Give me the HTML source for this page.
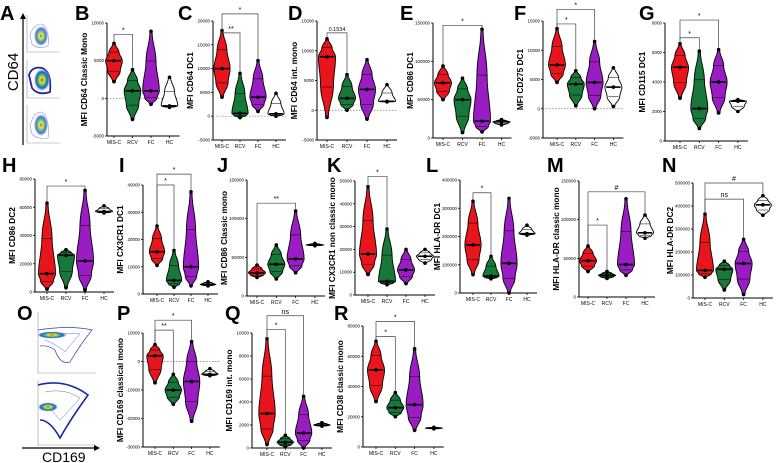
<!DOCTYPE html>
<html><head><meta charset="utf-8"><style>
body{margin:0;background:#fff;}
svg{display:block;font-family:"Liberation Sans",sans-serif;}
</style></head><body>
<svg id="fig" width="777" height="463" viewBox="0 0 777 463">
<defs>
<radialGradient id="flow" cx="50%" cy="50%" r="50%">
<stop offset="0" stop-color="#e02020"/><stop offset="0.25" stop-color="#f7e020"/><stop offset="0.5" stop-color="#30c080"/><stop offset="0.75" stop-color="#3050d0"/><stop offset="1" stop-color="#c0c8f0" stop-opacity="0.3"/>
</radialGradient>
</defs>
<g>
<text x="0" y="20" font-size="20" font-weight="bold">A</text>
<line x1="23" y1="145" x2="23" y2="17" stroke="#000" stroke-width="1.2"/><polygon points="20,19 26,19 23,13" fill="#000"/>
<text transform="translate(18,72) rotate(-90)" text-anchor="middle" font-size="15">CD64</text>
<g stroke="#999" stroke-width="0.6" fill="none"><path d="M27,15 V52 H60"/><path d="M27,60 V98 H60"/><path d="M27,105 V143 H60"/></g>
<path d="M30,36 Q33,24 42,24 Q50,30 48,46 Q38,50 32,44 Z" fill="none" stroke="#8090e0" stroke-width="0.6"/>
<ellipse cx="41" cy="36" rx="7" ry="10" fill="url(#flow)" opacity="0.85"/>
<path d="M29,75 Q32,66 42,68 Q52,72 50,92 Q38,96 32,88 Z" fill="none" stroke="#1a2aa0" stroke-width="1.8"/>
<ellipse cx="42" cy="80" rx="8" ry="11" fill="url(#flow)"/>
<path d="M30,126 Q33,112 42,112 Q50,118 48,138 Q38,140 32,134 Z" fill="none" stroke="#8090e0" stroke-width="0.6"/>
<ellipse cx="41" cy="125" rx="7" ry="11" fill="url(#flow)" opacity="0.85"/>
</g>
<g>
<text x="17" y="320" font-size="20" font-weight="bold">O</text>
<g stroke="#999" stroke-width="0.6" fill="none"><path d="M38,312 V373 H96"/><path d="M38,380 V445 H96"/></g>
<path d="M38,330 Q70,325 92,330 Q80,345 70,362 Q60,365 55,350 Q48,345 40,346" fill="none" stroke="#3040b0" stroke-width="0.7"/>
<path d="M45,335 Q65,332 80,334 Q70,345 65,352 Q58,345 45,340" fill="none" stroke="#6070c0" stroke-width="0.5"/>
<ellipse cx="52" cy="335" rx="15" ry="3.5" fill="url(#flow)"/>
<path d="M38,385 Q65,378 88,395 Q70,420 60,438 Q50,420 40,420" fill="none" stroke="#1a2aa0" stroke-width="1.6"/>
<path d="M45,392 Q65,388 80,398 Q68,412 60,420 Q52,410 45,405" fill="none" stroke="#6070c0" stroke-width="0.5"/>
<ellipse cx="48" cy="407" rx="10" ry="4.5" fill="url(#flow)"/>
<line x1="22" y1="448" x2="96" y2="448" stroke="#000" stroke-width="1.2"/><polygon points="94,445 94,451 100,448" fill="#000"/>
<text x="42" y="462" font-size="14">CD169</text>
</g>
<g id="charts"></g>
</svg>
<script>
const groups = ["MIS-C","RCV","FC","HC"];
// per-panel data: low, median, high for MIS-C, RCV, FC, HC
const bLow=[2200,-2800,-800,-1200], bMed=[5000,1000,1000,-1000], bHigh=[7300,3800,8900,2800];
const cLow=[4000,-300,1000,0], cMed=[10000,600,4000,500], cHigh=[18000,9000,11700,4800];
const dLow=[-1200,0,-1500,1400], dMed=[9000,2000,3500,1500], dHigh=[12000,6000,8500,4300];
const eLow=[50000,7000,8000,17000], eMed=[72000,50000,22000,21000], eHigh=[94000,78000,142000,24000];
const fLow=[4500,500,0,400], fMed=[7500,4200,4500,3700], fHigh=[13700,6500,11500,7000];
const gLow=[2900,850,1900,2000], gMed=[5000,2200,4000,2700], gHigh=[6600,6100,6200,2800];
const hLow=[2000,3000,1500,56000], hMed=[13000,26000,22000,57000], hHigh=[63000,30000,72000,61000];
const iLow=[10500,2500,3000,3000], iMed=[15500,5000,10000,3500], iHigh=[25000,16000,37500,4500];
const jLow=[24000,22000,30000,65000], jMed=[30000,41000,48000,66000], jHigh=[40000,66000,110000,68000];
const kLow=[9000,4500,5000,14000], kMed=[18000,6000,11000,17000], kHigh=[47500,29000,20000,20000];
const lLow=[65000,50000,0,205000], lMed=[170000,60000,105000,210000], lHigh=[325000,130000,335000,240000];
const mLow=[33000,24000,28000,76000], mMed=[47000,28000,42000,83000], mHigh=[66000,33000,127000,106000];
const nLow=[90000,35000,15000,360000], nMed=[120000,125000,150000,405000], nHigh=[365000,160000,255000,445000];
const pLow=[-7500,-15000,-21000,-5000], pMed=[2000,-10000,-7000,-4500], pHigh=[6000,-4500,7000,-2500];
const qLow=[300,100,0,1900], qMed=[3000,500,1300,2000], qHigh=[9500,1100,4500,2200];
const rLow=[30000,20000,11000,12000], rMed=[51000,26000,28000,12500], rHigh=[70000,36000,65000,13000];
// y-axis ticks per panel
const bTicks=[-5000,0,5000,10000], cTicks=[-5000,0,5000,10000,15000,20000], dTicks=[-5000,0,5000,10000,15000];
const eTicks=[0,50000,100000,150000], fTicks=[-5000,0,5000,10000,15000], gTicks=[0,2000,4000,6000,8000];
const hTicks=[0,20000,40000,60000,80000], iTicks=[0,10000,20000,30000,40000], jTicks=[0,50000,100000,150000];
const kTicks=[0,10000,20000,30000,40000,50000], lTicks=[0,100000,200000,300000,400000], mTicks=[0,50000,100000,150000];
const nTicks=[0,100000,200000,300000,400000,500000], pTicks=[-30000,-20000,-10000,0,10000], qTicks=[0,2000,4000,6000,8000,10000], rTicks=[0,20000,40000,60000,80000];
// significance brackets: [fromGroup, toGroup, level, label]
const bSig=[[0,1,8500,"*"]], cSig=[[0,1,17500,"**"],[0,2,21500,"*"]], dSig=[[0,1,13000,"0.1534"]];
const eSig=[[0,2,147000,"*"]], fSig=[[0,1,14500,"*"],[0,2,17000,"*"]], gSig=[[0,1,7000,"*"],[0,2,8200,"*"]];
const hSig=[[0,2,75000,"*"]], iSig=[[0,1,40000,"*"],[0,2,44000,"*"]], jSig=[[0,2,120000,"**"]];
const kSig=[[0,1,52000,"*"]], lSig=[[0,1,355000,"*"]], mSig=[[0,1,93000,"*"],[0,3,136000,"#"]];
const nSig=[[0,2,430000,"ns"],[0,3,500000,"#"]], pSig=[[0,1,11000,"**"],[0,2,14500,"*"]], qSig=[[0,1,10300,"*"],[0,2,11500,"ns"]], rSig=[[0,1,73000,"*"],[0,2,83000,"*"]];

const colors=["#e8161c","#17783a","#9a1dc4","#ffffff"];
const NS="http://www.w3.org/2000/svg";
const root=document.getElementById("charts");
function mk(tag,attrs,parent){const e=document.createElementNS(NS,tag);for(const k in attrs)e.setAttribute(k,attrs[k]);parent.appendChild(e);return e;}
function fmt(v){return String(v);}

function panel(id,letter,lx,ly,title,ax,yTop,yBot,ymin,ymax,ticks,c0,sp,low,med,high,sig,zero){
  const g=mk("g",{},root);
  
  
  const y=v=>yBot-(v-ymin)/(ymax-ymin)*(yBot-yTop);
  const x=i=>c0+i*sp;
  const L=mk("text",{x:lx,y:ly,"font-size":20,"font-weight":"bold"},g);L.textContent=letter;
  
  
  const T=mk("text",{transform:`translate(${ax-20},${(yTop+yBot)/2}) rotate(-90)`,"text-anchor":"middle","font-size":8.3,"font-weight":"bold"},g);T.textContent=title;
  
  
  const yA=mk("line",{x1:ax,y1:yTop,x2:ax,y2:yBot,stroke:"#000","stroke-width":1},g);
  
  
  const xEnd=x(3)+10;
  const xA=mk("line",{x1:ax,y1:yBot,x2:xEnd,y2:yBot,stroke:"#000","stroke-width":1},g);
  
  
  ticks.forEach(t=>{
    mk("line",{x1:ax-2,y1:y(t),x2:ax,y2:y(t),stroke:"#000","stroke-width":0.8},g);
    const tl=mk("text",{x:ax-3,y:y(t)+1.5,"text-anchor":"end","font-size":4.5},g);tl.textContent=fmt(t);
    
    
  });
  if(zero){mk("line",{x1:ax,y1:y(0),x2:xEnd,y2:y(0),stroke:"#777","stroke-width":0.7,"stroke-dasharray":"1.5,1.5"},g);}
  groups.forEach((nm,i)=>{
    mk("line",{x1:x(i),y1:yBot,x2:x(i),y2:yBot+2,stroke:"#000","stroke-width":0.8},g);
    const tl=mk("text",{x:x(i),y:yBot+8,"text-anchor":"middle","font-size":5},g);tl.textContent=nm;
    
    
    const lo=y(low[i]),md=y(med[i]),hi=y(high[i]);
    const W=Math.min(8.5,sp*0.45);
    const prof=[[lo,0.15],[(lo+md)/2,0.75],[md,1],[(md+hi)/2,0.6],[hi,0.12]];
    let left=[],right=[];
    for(let k=0;k<prof.length-1;k++){
      const [ya,wa]=prof[k],[yb,wb]=prof[k+1];
      for(let s=0;s<6;s++){const t=s/6;const f=(1-Math.cos(Math.PI*t))/2;const yy=ya+(yb-ya)*t;const ww=(wa+(wb-wa)*f)*W;left.push([x(i)-ww,yy]);right.push([x(i)+ww,yy]);}
    }
    left.push([x(i)-0.12*W,hi]);right.push([x(i)+0.12*W,hi]);
    const pts=left.concat(right.reverse()).map(p=>p[0].toFixed(1)+","+p[1].toFixed(1)).join(" ");
    const v=mk("polygon",{points:pts,fill:colors[i],stroke:"#000","stroke-width":0.9},g);
    
    
    mk("line",{x1:x(i)-W*0.85,y1:md,x2:x(i)+W*0.85,y2:md,stroke:"#000","stroke-width":1.6},g);
    [(lo+md)/2,(md+hi)/2].forEach(q=>mk("line",{x1:x(i)-W*0.6,y1:q,x2:x(i)+W*0.6,y2:q,stroke:"#000","stroke-width":0.5},g));
    [lo,md,hi].forEach(q=>{const d=mk("circle",{cx:x(i),cy:q,r:1.8,fill:"#000"},g);
      
      });
  });
  sig.forEach(s=>{
    const yy=y(s[2]),xa=x(s[0]),xb=x(s[1]);
    const br=mk("path",{d:`M${xa},${y(high[s[0]])-2} V${yy} H${xb} V${y(high[s[1]])-2}`,fill:"none",stroke:"#444","stroke-width":0.7},g);
    
    
    const st=mk("text",{x:(xa+xb)/2,y:yy-2,"text-anchor":"middle","font-size":s[3].length>2?5.5:7},g);st.textContent=s[3];
    
    
  });
}
panel("b","B",75,20,"MFI CD64 Classic Mono",107,23,136,-5000,10000,bTicks,114,18.5,bLow,bMed,bHigh,bSig,true);
panel("c","C",178,20,"MFI CD64 DC1",213,21,140,-5000,20000,cTicks,222,18,cLow,cMed,cHigh,cSig,true);
panel("d","D",288,20,"MFI CD64 int. mono",317,21,140,-5000,15000,dTicks,327,20,dLow,dMed,dHigh,dSig,true);
panel("e","E",400,20,"MFI CD86 DC1",433,23,138,0,150000,eTicks,443,19.5,eLow,eMed,eHigh,eSig,false);
panel("f","F",514,20,"MFI CD275 DC1",543,21,138,-5000,15000,fTicks,557,18.8,fLow,fMed,fHigh,fSig,true);
panel("g","G",639,20,"MFI CD115 DC1",665,23,141,0,8000,gTicks,680,19.3,gLow,gMed,gHigh,gSig,false);
panel("h","H",2,172,"MFI CD86 DC2",35,179,292,0,80000,hTicks,47,19,hLow,hMed,hHigh,hSig,false);
panel("i","I",119,172,"MFI CX3CR1 DC1",143,185,294,0,40000,iTicks,157,17,iLow,iMed,iHigh,iSig,false);
panel("j","J",217,172,"MFI CD86 Classic mono",247,180,296,0,150000,jTicks,257,19.3,jLow,jMed,jHigh,jSig,false);
panel("k","K",327,172,"MFI CX3CR1 non classic mono",355,181,295,0,50000,kTicks,368,19,kLow,kMed,kHigh,kSig,false);
panel("l","L",426,172,"MFI HLA-DR DC1",460,180,293,0,400000,lTicks,473,18,lLow,lMed,lHigh,lSig,false);
panel("m","M",547,172,"MFI HLA-DR classic mono",579,181,297,0,150000,mTicks,588,19,mLow,mMed,mHigh,mSig,false);
panel("n","N",662,172,"MFI HLA-DR DC2",693,183,298,0,500000,nTicks,705,19.3,nLow,nMed,nHigh,nSig,false);
panel("p","P",117,320,"MFI CD169 classical mono",143,333,447,-30000,10000,pTicks,155,18.3,pLow,pMed,pHigh,pSig,true);
panel("q","Q",225,320,"MFI CD169 int. mono",252,333,448,0,10000,qTicks,267,18.3,qLow,qMed,qHigh,qSig,false);
panel("r","R",334,320,"MFI CD38 classic mono",363,326,447,0,80000,rTicks,376,19.3,rLow,rMed,rHigh,rSig,false);
</script>
</body></html>
